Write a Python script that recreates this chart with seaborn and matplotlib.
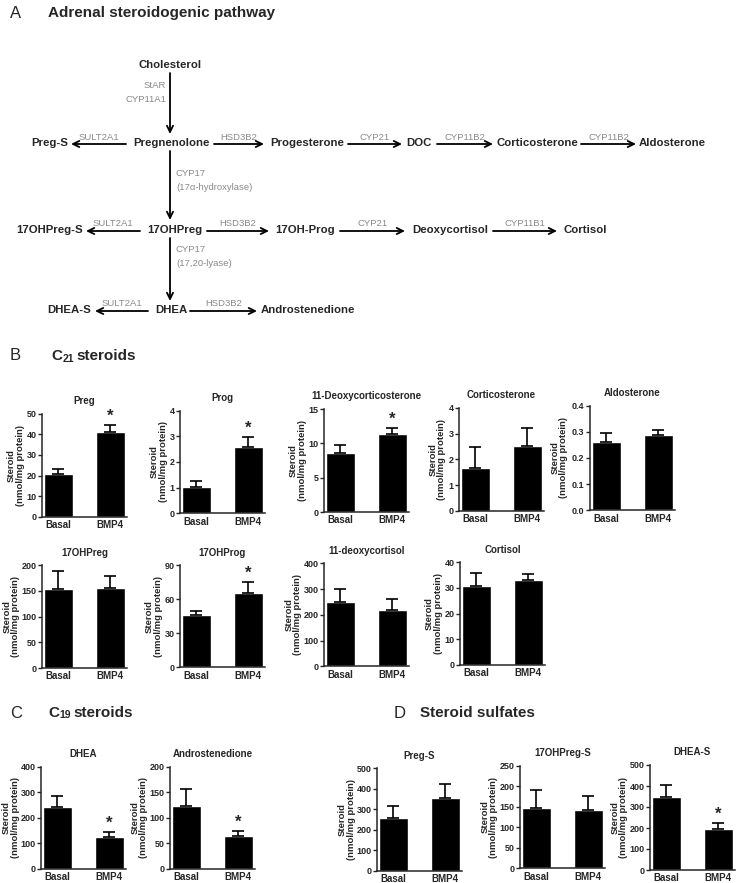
import numpy as np
import pandas as pd
import matplotlib
matplotlib.use("Agg")
import matplotlib.pyplot as plt
import seaborn as sns

# ---- data ----
groups = ["Basal", "BMP4"]
panels = ["Preg", "Prog", "11-Deoxycorticosterone", "Corticosterone", "Aldosterone",
          "17OHPreg", "17OHProg", "11-deoxycortisol", "Cortisol",
          "DHEA", "Androstenedione", "Preg-S", "17OHPreg-S", "DHEA-S"]
basal_mean = [20.6, 1.04, 8.55, 1.68, 0.260, 154, 46.2, 251, 30.8, 244, 124, 259, 148, 348]
bmp4_mean = [41.3, 2.60, 11.36, 2.52, 0.287, 155, 65.8, 219, 33.0, 126, 64.5, 354, 143, 195]
basal_sem = [2.4, 0.23, 1.2, 0.79, 0.035, 35, 3.8, 49, 4.9, 43, 32, 57, 42, 56]
bmp4_sem = [3.2, 0.36, 0.83, 0.71, 0.020, 25, 9.2, 42, 2.4, 20, 10, 70, 32, 27]
significant = [1, 1, 1, 0, 0, 0, 1, 0, 0, 1, 1, 0, 0, 1]
y_max = [50, 4, 15, 4, 0.4, 200, 90, 400, 40, 400, 200, 500, 250, 500]
y_step = [10, 1, 5, 1, 0.1, 50, 30, 100, 10, 100, 50, 100, 50, 100]

# pathway nodes and enzyme steps
row1 = ["Preg-S", "Pregnenolone", "Progesterone", "DOC", "Corticosterone", "Aldosterone"]
row2 = ["17OHPreg-S", "17OHPreg", "17OH-Prog", "Deoxycortisol", "Cortisol"]
row3 = ["DHEA-S", "DHEA", "Androstenedione"]
row1_enz = ["SULT2A1", "HSD3B2", "CYP21", "CYP11B2", "CYP11B2"]
row2_enz = ["SULT2A1", "HSD3B2", "CYP21", "CYP11B1"]
row3_enz = ["SULT2A1", "HSD3B2"]

# ---- layout (pixels) ----
W, H = 744, 883
AX_W = 85
# left, top, bottom of each bar axes
ax_box = [(42, 413.7, 516.7), (180, 410.7, 513.3), (324, 409, 512), (459, 407.7, 511), (590, 405.7, 510.3),
          (42, 565.3, 668), (180, 565.3, 667.3), (324, 563.3, 666.3), (460, 562.3, 665),
          (41, 766.7, 869), (170, 766.7, 869), (377, 768.3, 871), (520, 765.7, 868.3), (650, 765, 870)]

row1_x = [49.5, 171.5, 307, 419, 537, 672]
row2_x = [50, 174.5, 305.5, 450.5, 585]
row3_x = [69.5, 171.5, 307.5]
row1_arr = [(126, 71), (214, 264), (348, 402), (437, 493), (581, 636)]
row2_arr = [(140, 86), (207, 269), (340, 405), (493, 557)]
row3_arr = [(148, 95), (190, 257)]
ROW_Y = [143, 230, 310]

sns.set_style("ticks")
plt.rcParams["font.family"] = ["Liberation Sans", "DejaVu Sans"]
GREY = "#8a8a8a"
NODE_FS = 8.2
ENZ_FS = 6.8

fig = plt.figure(figsize=(W / 100, H / 100), dpi=100)

# overlay for the diagram and section headings, in pixel coordinates
ov = fig.add_axes([0, 0, 1, 1])
ov.set_xlim(0, W)
ov.set_ylim(H, 0)
ov.axis("off")

ov.text(10, 13, "A", fontsize=12, va="center")
ov.text(48, 13, "Adrenal steroidogenic pathway", fontsize=11, fontweight="bold", va="center")
ov.text(10, 356, "B", fontsize=12, va="center")
ov.text(51, 356, "C", fontsize=11, fontweight="bold", va="center")
ov.text(62.5, 358.5, "21", fontsize=7.5, fontweight="bold", va="center")
ov.text(76, 356, "steroids", fontsize=11, fontweight="bold", va="center")
ov.text(10, 713, "C", fontsize=12, va="center")
ov.text(48, 713, "C", fontsize=11, fontweight="bold", va="center")
ov.text(59.5, 715.5, "19", fontsize=7.5, fontweight="bold", va="center")
ov.text(73, 713, "steroids", fontsize=11, fontweight="bold", va="center")
ov.text(394, 713, "D", fontsize=12, va="center")
ov.text(420, 713, "Steroid sulfates", fontsize=11, fontweight="bold", va="center")

arrow_kw = dict(arrowstyle="->,head_length=0.45,head_width=0.22", color="black", lw=1.3,
                shrinkA=0, shrinkB=0)

def node(x, y, s):
    ov.text(x, y, s, fontsize=NODE_FS, fontweight="bold", ha="center", va="center")

def harrow(x0, x1, y, label):
    ov.annotate("", xy=(x1, y + 1), xytext=(x0, y + 1), arrowprops=arrow_kw)
    ov.text((x0 + x1) / 2, y - 1.5, label, fontsize=ENZ_FS, color=GREY, ha="center", va="bottom")

node(170, 65, "Cholesterol")
for names, xs, arrs, enz, y in [(row1, row1_x, row1_arr, row1_enz, ROW_Y[0]),
                                (row2, row2_x, row2_arr, row2_enz, ROW_Y[1]),
                                (row3, row3_x, row3_arr, row3_enz, ROW_Y[2])]:
    for s, x in zip(names, xs):
        node(x, y, s)
    for (x0, x1), lab in zip(arrs, enz):
        harrow(x0, x1, y, lab)

# vertical steps
ov.annotate("", xy=(170, 134), xytext=(170, 73), arrowprops=arrow_kw)
ov.text(166, 86, "StAR", fontsize=ENZ_FS, color=GREY, ha="right", va="center")
ov.text(166, 100, "CYP11A1", fontsize=ENZ_FS, color=GREY, ha="right", va="center")
ov.annotate("", xy=(170, 220), xytext=(170, 151), arrowprops=arrow_kw)
ov.text(176, 173, "CYP17", fontsize=ENZ_FS, color=GREY, ha="left", va="center")
ov.text(176, 187, "(17\u03b1-hydroxylase)", fontsize=ENZ_FS, color=GREY, ha="left", va="center")
ov.annotate("", xy=(170, 301), xytext=(170, 238), arrowprops=arrow_kw)
ov.text(176, 250, "CYP17", fontsize=ENZ_FS, color=GREY, ha="left", va="center")
ov.text(176, 264, "(17,20-lyase)", fontsize=ENZ_FS, color=GREY, ha="left", va="center")

# ---- bar charts ----
for i, name in enumerate(panels):
    left, top, bottom = ax_box[i]
    ax = fig.add_axes([left / W, 1 - bottom / H, AX_W / W, (bottom - top) / H])
    df = pd.DataFrame({"group": groups, "value": [basal_mean[i], bmp4_mean[i]]})
    sns.barplot(data=df, x="group", y="value", color="black", saturation=1,
                width=0.56, errorbar=None, ax=ax)
    sem = [basal_sem[i], bmp4_sem[i]]
    ax.errorbar([0, 1], df["value"], yerr=[[0, 0], sem], fmt="none", ecolor="black",
                elinewidth=1.2, capsize=4.5, capthick=1.2, zorder=1)
    if significant[i]:
        ax.annotate("*", xy=(1, bmp4_mean[i] + bmp4_sem[i]), xytext=(0, 1),
                    textcoords="offset points", ha="center", va="bottom",
                    fontsize=12, fontweight="bold")
    ax.set_xlim(-0.31, 1.32)
    ax.set_ylim(0, y_max[i])
    ticks = np.arange(0, y_max[i] + y_step[i] / 2, y_step[i])
    ax.set_yticks(ticks)
    if y_max[i] < 1:
        labels = [f"{t:.1f}" for t in ticks]
    else:
        labels = [f"{t:g}" for t in ticks]
    ax.set_yticklabels(labels)
    ax.set_xlabel("")
    ax.set_ylabel("Steroid\n(nmol/mg protein)", fontsize=6.8, fontweight="bold",
                  linespacing=1.0)
    # keep the y label just clear of the tick labels
    gap = 8 + 4.5 * max(len(s) for s in labels)
    ax.yaxis.set_label_coords(-gap / AX_W, 0.5)
    ax.set_title(name, fontsize=7, fontweight="bold", pad=7)
    for sp in ["top", "right"]:
        ax.spines[sp].set_visible(False)
    for sp in ["left", "bottom"]:
        ax.spines[sp].set_linewidth(1.1)
    ax.tick_params(axis="y", length=3, width=1, labelsize=6.5, pad=1)
    ax.tick_params(axis="x", length=0, labelsize=7, pad=2.5)
    for lab in ax.get_yticklabels() + ax.get_xticklabels():
        lab.set_fontweight("bold")
    ax.set_facecolor("none")

fig.savefig("out.png", dpi=100)
